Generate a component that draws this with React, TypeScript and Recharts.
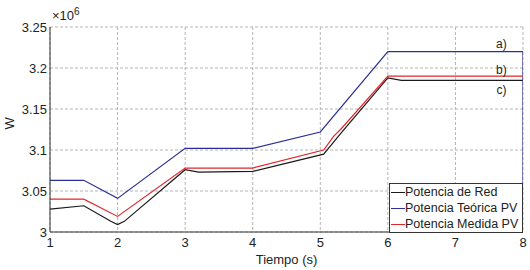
import {
  LineChart,
  Line,
  XAxis,
  YAxis,
  CartesianGrid,
  Legend,
  ReferenceDot,
} from "recharts";

// values in W x 10^6
const tRed = [1, 1.5, 1.9, 2, 2.1, 3, 3.2, 4, 5.05, 5.2, 5.3, 6, 6.2, 8];
const potenciaRed = [3.028, 3.032, 3.013, 3.009, 3.013, 3.076, 3.073, 3.074, 3.095, 3.110, 3.120, 3.188, 3.185, 3.185];

const tTeorica = [1, 1.5, 2, 3, 4, 5, 6, 8, 8];
const potenciaTeorica = [3.063, 3.063, 3.041, 3.102, 3.102, 3.122, 3.22, 3.22, 2.9];

const tMedida = [1, 1.5, 2, 3, 4, 5.05, 5.2, 5.3, 6, 8];
const potenciaMedida = [3.04, 3.04, 3.019, 3.078, 3.078, 3.1, 3.117, 3.125, 3.19, 3.19];

const xTicks = [1, 2, 3, 4, 5, 6, 7, 8];
const yTicks = [3, 3.05, 3.1, 3.15, 3.2, 3.25];

const annotations = [
  { x: 7.68, y: 3.229, text: "a)" },
  { x: 7.68, y: 3.198, text: "b)" },
  { x: 7.68, y: 3.174, text: "c)" },
];

const series = [
  { name: "Potencia de Red", color: "#1a1a1a", t: tRed, v: potenciaRed },
  { name: "Potencia Teórica PV", color: "#2b2f96", t: tTeorica, v: potenciaTeorica },
  { name: "Potencia Medida PV", color: "#e3262b", t: tMedida, v: potenciaMedida },
];

const FONT = "'Liberation Sans', Arial, sans-serif";

function LegendBox() {
  return (
    <div
      style={{
        border: "1px solid #333",
        background: "#fff",
        width: 132,
        height: 48,
        fontFamily: FONT,
        fontSize: 12.5,
        color: "#222",
        boxSizing: "content-box",
      }}
    >
      {series.map((s) => (
        <div
          key={s.name}
          style={{ display: "flex", alignItems: "center", height: 16, whiteSpace: "nowrap" }}
        >
          <span
            style={{
              display: "inline-block",
              width: 14,
              height: 0,
              borderTop: `1px solid ${s.color}`,
              marginLeft: 1,
            }}
          />
          <span>{s.name}</span>
        </div>
      ))}
    </div>
  );
}

export default function App() {
  return (
    <div style={{ position: "absolute", left: 0, top: 0, background: "#fff" }}>
      <LineChart
        width={530}
        height={270}
        margin={{ top: 27, right: 7, bottom: 0, left: 0 }}
        style={{ fontFamily: FONT }}
      >
        <CartesianGrid stroke="#b5b5b5" strokeDasharray="3 2" />
        <XAxis
          type="number"
          dataKey="x"
          domain={[1, 8]}
          ticks={xTicks}
          allowDataOverflow
          height={38}
          tickSize={0}
          tickMargin={6}
          stroke="#333"
          tick={{ fill: "#222", fontSize: 13 }}
          label={{ value: "Tiempo (s)", position: "insideBottom", offset: 6, fill: "#222", fontSize: 13 }}
        />
        <XAxis xAxisId="top" orientation="top" type="number" domain={[1, 8]} height={0} tick={false} tickLine={false} stroke="#333" />
        <YAxis
          type="number"
          domain={[3, 3.25]}
          ticks={yTicks}
          allowDataOverflow
          width={50}
          tickSize={0}
          tickMargin={3}
          stroke="#333"
          tick={{ fill: "#222", fontSize: 13 }}
          label={{ value: "W", angle: -90, position: "insideLeft", offset: 9, fill: "#222", fontSize: 13 }}
        />
        <YAxis yAxisId="right" orientation="right" domain={[3, 3.25]} width={0} tick={false} tickLine={false} stroke="#333" />
        {series.map((s) => (
          <Line
            key={s.name}
            name={s.name}
            data={s.t.map((x, i) => ({ x, y: s.v[i] }))}
            dataKey="y"
            stroke={s.color}
            strokeWidth={1.2}
            dot={false}
            isAnimationActive={false}
          />
        ))}
        {annotations.map((a) => (
          <ReferenceDot
            key={a.text}
            x={a.x}
            y={a.y}
            r={0}
            stroke="none"
            label={{ value: a.text, position: "center", fill: "#222", fontSize: 12 }}
          />
        ))}
        <Legend
          layout="horizontal"
          verticalAlign="middle"
          align="center"
          wrapperStyle={{ left: 389, top: 183, width: "auto" }}
          content={() => <LegendBox />}
        />
      </LineChart>
      <div
        style={{
          position: "absolute",
          left: 52,
          top: 6,
          fontFamily: FONT,
          fontSize: 13,
          color: "#222",
        }}
      >
        ×10<sup style={{ fontSize: 10 }}>6</sup>
      </div>
    </div>
  );
}
